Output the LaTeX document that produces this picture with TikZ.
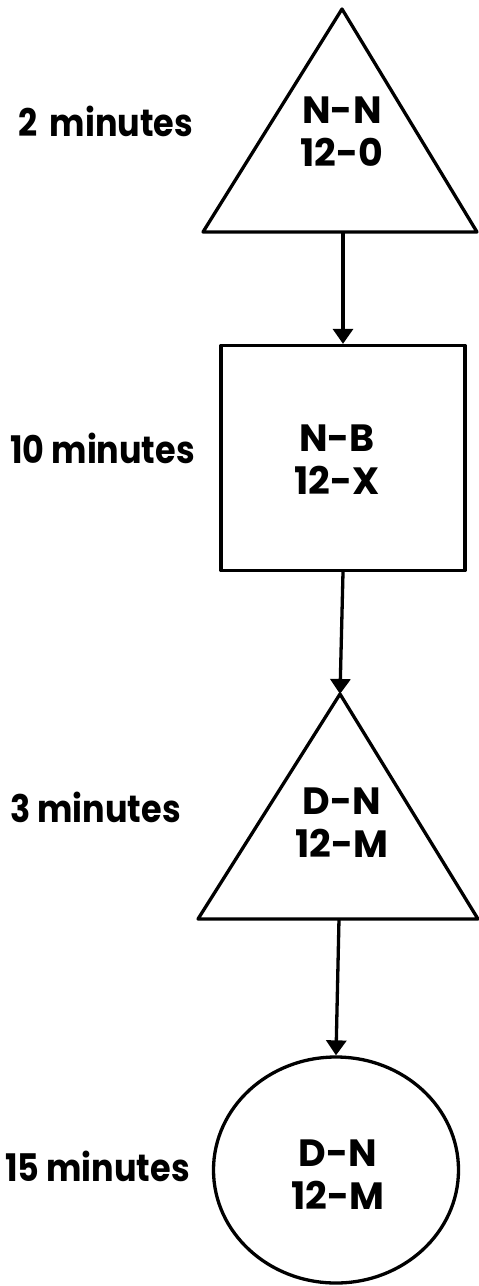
\documentclass[tikz,border=0pt]{standalone}
\usepackage{fontspec}
\setmainfont{Poppins}
\newfontfamily\narrowfont{Poppins}[FakeStretch=0.88]
\usetikzlibrary{arrows.meta,shapes.geometric}
\begin{document}
\begin{tikzpicture}[x=1pt,y=-1pt,
  shape line/.style={line width=3.3pt,line join=round},
  flow/.style={line width=3.3pt,-{Triangle[width=20pt,length=15pt]}},
  code/.style={font=\fontsize{38}{43}\selectfont\bfseries,align=center,inner sep=0pt},
  timelabel/.style={font=\narrowfont\fontsize{38}{44}\selectfont\bfseries,anchor=base west,inner sep=0pt}
]
\useasboundingbox (0,0) rectangle (479,1286);

% stage 1: triangle
\coordinate (t1top) at (342,9);
\coordinate (t1bot) at (343,232);
\draw[shape line] (t1top) -- (477,232) -- (203,232) -- cycle;
\node[code] (c1) at (342,132) {N-N\\12-0};

% stage 2: box
\node[draw,shape line,minimum width=244pt,minimum height=225pt,inner sep=0pt] (box) at (343,458) {};
\node[code] (c2) at (337,460) {N-B\\12-X};

% stage 3: triangle
\coordinate (t2top) at (340,694);
\coordinate (t2bot) at (339,919);
\draw[shape line] (t2top) -- (478,919) -- (198,919) -- cycle;
\node[code] (c3) at (342,823) {D-N\\12-M};

% stage 4: ellipse
\node[draw,ellipse,shape line,minimum width=245pt,minimum height=226pt,inner sep=0pt] (end) at (336,1170) {};
\node[code] (c4) at (338,1175) {D-N\\12-M};

% connectors
\draw[flow] (t1bot) -- (box.north);
\draw[flow] (box.south) -- (t2top);
\draw[flow] (t2bot) -- (end.north);

% durations
\node[timelabel] (d1) at (18,136) {2\,\,minutes};
\node[timelabel] (d2) at (10,463) {10 minutes};
\node[timelabel] (d3) at (10,822) {3 minutes};
\node[timelabel] (d4) at (5,1181) {15 minutes};
\end{tikzpicture}
\end{document}
